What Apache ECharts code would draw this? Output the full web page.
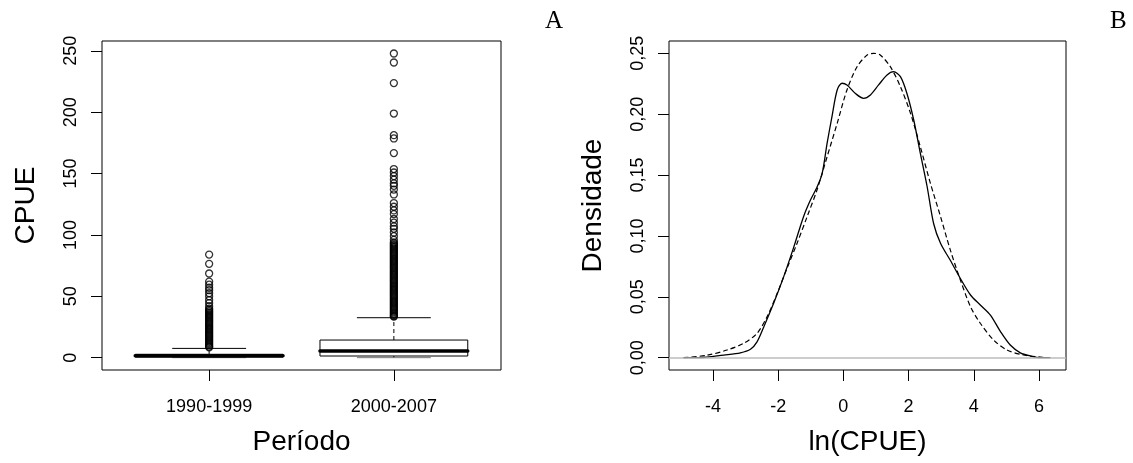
<!DOCTYPE html>
<html>
<head>
<meta charset="utf-8">
<script src="https://cdn.jsdelivr.net/npm/echarts@6/dist/echarts.min.js"></script>
<style>
html, body { margin:0; padding:0; background:#fff; }
#main { width:1133px; height:463px; }
</style>
</head>
<body>
<div id="main"></div>
<script>
// painel A: boxplot da CPUE por periodo
var periodos = ['1990-1999', '2000-2007'];
// [posicao, min, Q1, mediana, Q3, max]
var caixas = [
    [1, 0.05, 0.5, 1.6, 2.8, 7.6],
    [2, 0.05, 1.4, 5.4, 14.4, 32.6]
];
var outliers1 = [84, 76.5, 68.6, 62, 59.5, 57, 55, 52.5, 50, 47, 44.5, 42,
    40, 39, 38, 37, 36, 35, 34, 33, 32, 31, 30, 29, 28, 27, 26, 25, 24, 23, 22,
    21, 20, 19, 18, 17, 16, 15, 14, 13, 12, 11, 10, 9, 8.5];
var outliers2 = [247.8, 240.5, 223.7, 198.9, 181.3, 178.6, 166.7, 153.7, 150.9,
    148, 145, 142, 140, 137, 133, 126, 123, 120, 117, 113, 110, 107, 105, 102,
    99, 96, 94, 93, 92, 91, 90, 89, 88, 87, 86, 85, 84, 83, 82, 81, 80, 79, 78,
    77, 76, 75, 74, 73, 72, 71, 70, 69, 68, 67, 66, 65, 64, 63, 62, 61, 60, 59,
    58, 57, 56, 55, 54, 53, 52, 51, 50, 49, 48, 47, 46, 45, 44, 43, 42, 41, 40,
    39, 38, 37, 36, 35, 34, 33.5];
var ticksA = [0, 50, 100, 150, 200, 250];

// painel B: densidade de ln(CPUE)
var xDens = [-4.9, -4.39, -3.67, -3.16, -2.85, -2.65, -2.44, -2.14, -1.83, -1.52,
    -1.22, -1.01, -0.81, -0.65, -0.5, -0.35, -0.19, -0.04, 0.11, 0.37, 0.62, 0.83,
    1.08, 1.34, 1.54, 1.75, 1.95, 2.16, 2.36, 2.57, 2.77, 2.98, 3.28, 3.59, 3.9,
    4.2, 4.51, 4.82, 5.12, 5.43, 5.74, 6.04, 6.35];
var yDens = [0, 0, 0.0022, 0.004, 0.0069, 0.013, 0.0255, 0.0447, 0.0666, 0.091,
    0.116, 0.1295, 0.14, 0.1514, 0.176, 0.198, 0.2199, 0.2254, 0.224, 0.217, 0.213,
    0.2158, 0.224, 0.2322, 0.2349, 0.2308, 0.217, 0.195, 0.168, 0.1404, 0.11,
    0.094, 0.08, 0.065, 0.0515, 0.0433, 0.035, 0.0214, 0.0104, 0.004, 0.0014, 0, 0];
var xNorm = [-4.9, -4.18, -3.57, -3.06, -2.65, -2.34, -2.03, -1.73, -1.42, -1.11,
    -0.81, -0.5, -0.19, 0.11, 0.42, 0.73, 0.93, 1.13, 1.44, 1.75, 2.06, 2.36,
    2.67, 2.98, 3.28, 3.59, 3.9, 4.2, 4.61, 5.02, 5.53, 6.04, 6.2];
var yNorm = [0, 0.002, 0.0063, 0.0118, 0.02, 0.0337, 0.0529, 0.0734, 0.094,
    0.116, 0.1377, 0.165, 0.1925, 0.2199, 0.239, 0.2486, 0.25, 0.2486, 0.239,
    0.2226, 0.2007, 0.1733, 0.1432, 0.116, 0.0885, 0.0638, 0.0419, 0.0283,
    0.0145, 0.0063, 0.0022, 0.0005, 0];
var ticksBy = [0, 0.05, 0.1, 0.15, 0.2, 0.25];
var ticksBx = [-4, -2, 0, 2, 4, 6];

function pares(xs, ys) {
    var out = [];
    for (var i = 0; i < xs.length; i++) out.push([xs[i], ys[i]]);
    return out;
}
var pontos = [];
for (var i = 0; i < outliers1.length; i++) pontos.push([1, outliers1[i]]);
for (var i = 0; i < outliers2.length; i++) pontos.push([2, outliers2[i]]);

var fonte = 'Liberation Sans';
var preto = '#000';

function eixo(extra) {
    var base = {
        axisLine: { show: false, onZero: false },
        axisTick: { show: true, inside: false, length: 11, lineStyle: { color: preto, width: 1 } },
        splitLine: { show: false },
        axisLabel: { color: preto, fontFamily: fonte, fontSize: 18 },
        nameTextStyle: { color: preto, fontFamily: fonte, fontSize: 28 },
        nameLocation: 'middle'
    };
    for (var k in extra) {
        if (typeof extra[k] === 'object' && base[k] && !Array.isArray(extra[k])) {
            for (var j in extra[k]) base[k][j] = extra[k][j];
        } else {
            base[k] = extra[k];
        }
    }
    return base;
}

function renderCaixa(params, api) {
    var x = api.value(0);
    var lo = api.coord([x, api.value(1)]);
    var q1 = api.coord([x, api.value(2)]);
    var med = api.coord([x, api.value(3)]);
    var q3 = api.coord([x, api.value(4)]);
    var hi = api.coord([x, api.value(5)]);
    var half = api.size([0.4, 0])[0];
    var cap = half / 2;
    var cx = q1[0];
    var st = { stroke: preto, lineWidth: 1, fill: null };
    return {
        type: 'group',
        children: [
            { type: 'line', shape: { x1: cx, y1: q3[1], x2: cx, y2: hi[1] }, style: { stroke: preto, lineWidth: 1, lineDash: [4, 3] } },
            { type: 'line', shape: { x1: cx, y1: q1[1], x2: cx, y2: lo[1] }, style: { stroke: preto, lineWidth: 1, lineDash: [4, 3] } },
            { type: 'line', shape: { x1: cx - cap, y1: hi[1], x2: cx + cap, y2: hi[1] }, style: st },
            { type: 'line', shape: { x1: cx - cap, y1: lo[1], x2: cx + cap, y2: lo[1] }, style: { stroke: '#777', lineWidth: 1 } },
            { type: 'rect', shape: { x: cx - half, y: q3[1], width: 2 * half, height: q1[1] - q3[1] }, style: { stroke: preto, lineWidth: 1, fill: '#fff' } },
            { type: 'line', shape: { x1: cx - half, y1: med[1], x2: cx + half, y2: med[1] }, style: { stroke: preto, lineWidth: 3.5, lineCap: 'round' } }
        ]
    };
}

var myChart = echarts.init(document.getElementById('main'));
var option = {
    animation: false,
    backgroundColor: '#fff',
    grid: [
        { left: 102, top: 41, width: 399, height: 329, show: true, borderColor: preto, borderWidth: 1, backgroundColor: 'transparent' },
        { left: 669, top: 41, width: 397, height: 329, show: true, borderColor: preto, borderWidth: 1, backgroundColor: 'transparent' }
    ],
    xAxis: [
        eixo({
            gridIndex: 0, type: 'value', min: 0.42, max: 2.58,
            name: 'Período', nameGap: 58,
            axisTick: { customValues: [1, 2] },
            axisLabel: { customValues: [1, 2], margin: 28, formatter: function (v) { return periodos[Math.round(v) - 1]; } }
        }),
        eixo({
            gridIndex: 1, type: 'value', min: -5.35, max: 6.83,
            name: 'ln(CPUE)', nameGap: 58,
            axisTick: { customValues: ticksBx },
            axisLabel: { customValues: ticksBx, margin: 28 }
        })
    ],
    yAxis: [
        eixo({
            gridIndex: 0, type: 'value', min: -10, max: 258,
            name: 'CPUE', nameGap: 62,
            axisTick: { customValues: ticksA },
            axisLabel: { customValues: ticksA, rotate: 90, margin: 22 }
        }),
        eixo({
            gridIndex: 1, type: 'value', min: -0.0101, max: 0.2601,
            name: 'Densidade', nameGap: 62,
            axisTick: { customValues: ticksBy },
            axisLabel: { customValues: ticksBy, rotate: 90, margin: 22, formatter: function (v) { return v.toFixed(2).replace('.', ','); } }
        })
    ],
    graphic: [
        { type: 'text', left: 545, top: 9, style: { text: 'A', font: '25px "Liberation Serif"', fill: preto } },
        { type: 'text', left: 1110, top: 9, style: { text: 'B', font: '25px "Liberation Serif"', fill: preto } }
    ],
    series: [
        {
            type: 'custom', xAxisIndex: 0, yAxisIndex: 0,
            renderItem: renderCaixa,
            encode: { x: 0, y: [1, 2, 3, 4, 5] },
            data: caixas, z: 3
        },
        {
            type: 'scatter', xAxisIndex: 0, yAxisIndex: 0,
            symbol: 'circle', symbolSize: 7,
            itemStyle: { color: 'transparent', borderColor: preto, borderWidth: 1.3 },
            data: pontos, z: 4
        },
        {
            type: 'line', xAxisIndex: 1, yAxisIndex: 1,
            data: pares(xDens, yDens), smooth: 0.3, showSymbol: false,
            lineStyle: { color: preto, width: 1.3 },
            markLine: {
                silent: true, symbol: ['none', 'none'], label: { show: false },
                lineStyle: { color: '#bbb', type: 'solid', width: 1.5 },
                data: [{ yAxis: 0 }]
            },
            z: 3
        },
        {
            type: 'line', xAxisIndex: 1, yAxisIndex: 1,
            data: pares(xNorm, yNorm), smooth: 0.3, showSymbol: false,
            lineStyle: { color: preto, width: 1.2, type: [5, 3] },
            z: 3
        }
    ]
};
myChart.setOption(option);
</script>
</body>
</html>
